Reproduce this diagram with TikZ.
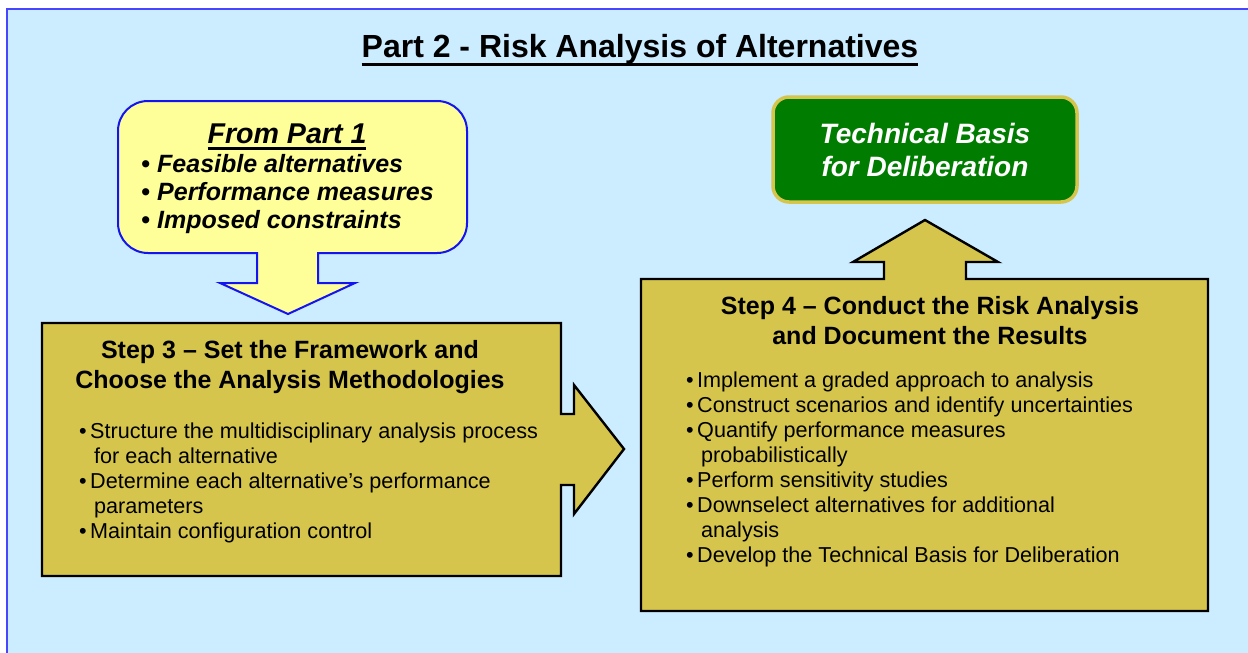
\documentclass[tikz,border=0pt]{standalone}
\usepackage{fontspec}
\setmainfont{Liberation Sans}
\definecolor{SkyBack}{RGB}{204,236,255}
\definecolor{FrameBlue}{RGB}{70,70,255}
\definecolor{NoteBlue}{RGB}{20,20,240}
\definecolor{StepOlive}{RGB}{213,197,76}
\definecolor{NoteYellow}{RGB}{255,255,153}
\definecolor{BasisGreen}{RGB}{0,125,0}
\newcommand{\itm}{\makebox[11pt][l]{\textbullet}}
\newcommand{\cnt}{\hspace*{15pt}}
\newsavebox{\ulbox}
% thick underline: #1 = depth of the rule's bottom below the baseline
\newcommand{\thickul}[2]{\sbox{\ulbox}{#2}\rlap{\rule[-#1]{\wd\ulbox}{2.6pt}}\usebox{\ulbox}}

\begin{document}
\begin{tikzpicture}[x=1pt,y=-1pt,
    stepshape/.style={fill=StepOlive,draw=black,line width=2.4pt,line join=miter},
    notebox/.style={fill=NoteYellow,draw=NoteBlue,line width=2pt,line join=miter},
    stephead/.style={font=\fontsize{25}{29.5}\selectfont\bfseries,align=center,inner sep=0pt,anchor=base},
    steplist/.style={font=\fontsize{21.6}{25}\selectfont,align=left,inner sep=0pt,anchor=base west}]
      \useasboundingbox (0,0) rectangle (1248,653);
      \fill[SkyBack] (7,9) rectangle (1248,653);
      \draw[FrameBlue,line width=2.5pt] (7,653)--(7,9)--(1248,9);
      \node[inner sep=0pt,anchor=base,font=\fontsize{32}{36}\selectfont\bfseries] (title) at (640,57)
        {\thickul{8.6pt}{Part 2 - Risk Analysis of Alternatives}};
      % inputs from part 1, with the arrow down
      \draw[notebox] (257,253)--(257,283)--(220,283)--(288,314)--(355,283)--(318,283)--(318,253)
        --(437,253) arc (90:0:30) --(467,131) arc (0:-90:30) --(148,101) arc (270:180:30)
        --(118,223) arc (180:90:30) --cycle;
      \node[inner sep=0pt,anchor=base,font=\fontsize{28.6}{32}\selectfont\bfseries\itshape] (fromhead) at (287,143)
        {\thickul{6.8pt}{From Part 1}};
      % base of a multi-line node = its last line
      \node[inner sep=0pt,align=left,anchor=base west,font=\fontsize{25}{28}\selectfont\bfseries\itshape] (fromlist) at (141,228)
        {\makebox[16pt][l]{\textbullet}Feasible alternatives\\
         \makebox[16pt][l]{\textbullet}Performance measures\\
         \makebox[16pt][l]{\textbullet}Imposed constraints};
      % step 3
      \draw[stepshape] (42,323)--(561,323)--(561,414)--(574,414)--(574,385)--(624,449)--(574,514)
        --(574,485)--(561,485)--(561,576)--(42,576)--cycle;
      \node[stephead] (stepthree) at (290,388)
        {Step 3 -- Set the Framework and\\Choose the Analysis Methodologies};
      \node[steplist] (threelist) at (79,538)
        {\itm Structure the multidisciplinary analysis process\\
         \cnt for each alternative\\
         \itm Determine each alternative’s performance\\
         \cnt parameters\\
         \itm Maintain configuration control};
      % step 4, with the arrow up
      \draw[stepshape] (641,279)--(884,279)--(884,262)--(853,262)--(925,220)--(998,262)--(966,262)
        --(966,279)--(1208,279)--(1208,611)--(641,611)--cycle;
      \node[stephead] (stepfour) at (930,344)
        {Step 4 -- Conduct the Risk Analysis\\and Document the Results};
      \node[steplist] (fourlist) at (686,562)
        {\itm Implement a graded approach to analysis\\
         \itm Construct scenarios and identify uncertainties\\
         \itm Quantify performance measures\\
         \cnt probabilistically\\
         \itm Perform sensitivity studies\\
         \itm Downselect alternatives for additional\\
         \cnt analysis\\
         \itm Develop the Technical Basis for Deliberation};
      \node[fill=BasisGreen,draw=StepOlive,line width=3.5pt,rounded corners=16pt,
        minimum width=304pt,minimum height=105pt,align=center,text=white,
        font=\fontsize{28}{33}\selectfont\bfseries\itshape] (basis) at (925,149.5)
        {Technical Basis\\for Deliberation};
    \end{tikzpicture}
\end{document}
